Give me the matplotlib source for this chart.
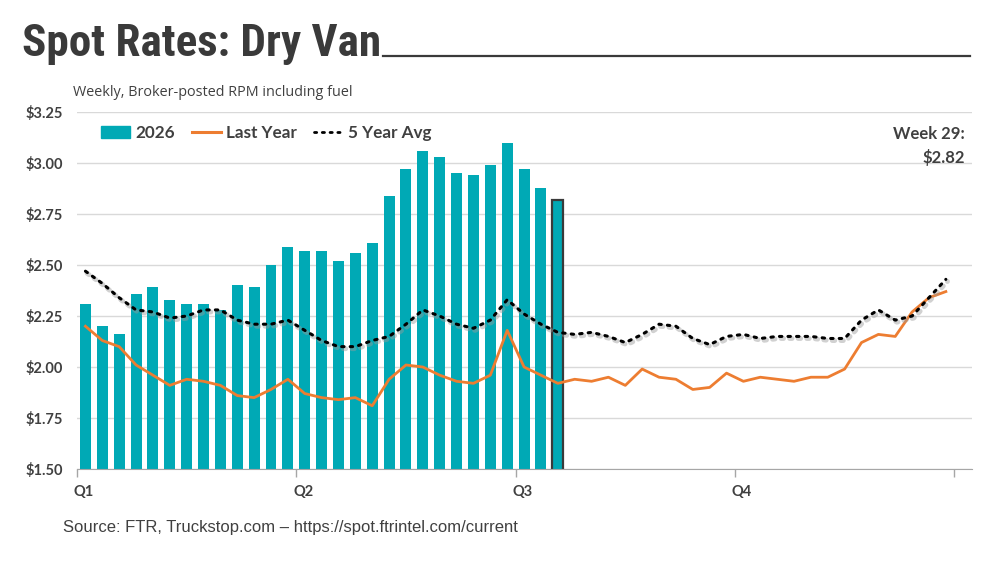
import numpy as np
import matplotlib
matplotlib.use('Agg')
import matplotlib.pyplot as plt
import matplotlib.patheffects as pe
from matplotlib.lines import Line2D
from matplotlib.patches import Patch

# weekly broker-posted RPM incl. fuel
weeks = np.arange(1, 53)
rate_2026 = [2.31, 2.20, 2.16, 2.36, 2.39, 2.33, 2.31, 2.31, 2.28, 2.40,
             2.39, 2.50, 2.59, 2.57, 2.57, 2.52, 2.56, 2.61, 2.84, 2.97,
             3.06, 3.03, 2.95, 2.94, 2.99, 3.10, 2.97, 2.88, 2.82]
last_year = [2.20, 2.13, 2.10, 2.01, 1.96, 1.91, 1.94, 1.93, 1.91, 1.86,
             1.85, 1.89, 1.94, 1.87, 1.85, 1.84, 1.85, 1.81, 1.94, 2.01,
             2.00, 1.96, 1.93, 1.92, 1.96, 2.18, 2.00, 1.96, 1.92, 1.94,
             1.93, 1.95, 1.91, 1.99, 1.95, 1.94, 1.89, 1.90, 1.97, 1.93,
             1.95, 1.94, 1.93, 1.95, 1.95, 1.99, 2.12, 2.16, 2.15, 2.27,
             2.34, 2.37]
five_yr_avg = [2.47, 2.41, 2.34, 2.28, 2.27, 2.24, 2.25, 2.28, 2.28, 2.23,
               2.21, 2.21, 2.23, 2.18, 2.13, 2.10, 2.10, 2.13, 2.15, 2.21,
               2.28, 2.25, 2.21, 2.19, 2.23, 2.33, 2.26, 2.21, 2.17, 2.16,
               2.17, 2.15, 2.12, 2.16, 2.21, 2.20, 2.14, 2.11, 2.15, 2.16,
               2.14, 2.15, 2.15, 2.15, 2.14, 2.14, 2.23, 2.28, 2.23, 2.25,
               2.34, 2.43]
quarters = ['Q1', 'Q2', 'Q3', 'Q4']
y_ticks = [1.50, 1.75, 2.00, 2.25, 2.50, 2.75, 3.00, 3.25]

teal = '#00A9B5'
orange = '#ED7D31'
txt = '#404040'
bold_font = ['Lato', 'DejaVu Sans']

fig = plt.figure(figsize=(10, 5.62), dpi=100)
ax = fig.add_axes([0.077, 0.1655, 0.895, 0.635])

n = len(rate_2026)
bars = ax.bar(weeks[:n], rate_2026, width=0.65, color=teal, zorder=2)
bars[-1].set_edgecolor('#3a3a3a')
bars[-1].set_linewidth(1.6)

ax.plot(weeks, last_year, color=orange, lw=2.0, zorder=3, solid_joinstyle='round')
ax.plot(weeks, five_yr_avg, color='black', lw=2.2, linestyle=(0, (0.8, 2.0)),
        dash_capstyle='round', zorder=4,
        path_effects=[pe.SimpleLineShadow(offset=(1.2, -1.5), shadow_color='#9a9a9a', alpha=0.45, linewidth=3.5),
                      pe.Normal()])

ax.set_xlim(0.5, 53.55)
ax.set_ylim(1.5, 3.25)
ax.set_yticks(y_ticks)
ax.set_yticklabels(['${:.2f}'.format(v) for v in y_ticks], fontfamily=bold_font,
                   fontweight='bold', fontsize=10.5, color=txt)
ax.yaxis.grid(True, color='#D9D9D9', lw=1.0, zorder=0)
ax.set_axisbelow(True)
ax.tick_params(axis='y', length=0, pad=10)

ax.set_xticks([0.5, 13.5, 26.5, 39.5, 52.5])
ax.set_xticklabels([])
ax.tick_params(axis='x', direction='out', length=6, color='#A6A6A6', width=1)
for i, q in enumerate(quarters):
    ax.text(0.5 + 13 * i + 0.4, 1.5 - 0.115, q, ha='center', va='center',
            fontfamily=bold_font, fontweight='bold', fontsize=10.5, color=txt)

for s in ['top', 'right', 'left']:
    ax.spines[s].set_visible(False)
ax.spines['bottom'].set_color('#A6A6A6')
ax.spines['bottom'].set_bounds(0.5, 53.55)

handles = [Patch(color=teal),
           Line2D([], [], color=orange, lw=2.2),
           Line2D([], [], color='black', lw=2.0, linestyle=(0, (0.8, 2.0)), dash_capstyle='round')]
leg = ax.legend(handles, ['2026', 'Last Year', '5 Year Avg'], loc='upper left',
                bbox_to_anchor=(0.01, 1.008), ncol=3, frameon=False, handlelength=1.7,
                handletextpad=0.3, columnspacing=1.0,
                prop={'family': bold_font, 'weight': 'bold', 'size': 12.3})
for t in leg.get_texts():
    t.set_color(txt)

fig.text(0.965, 0.74, 'Week 29:\n$2.82', ha='right', va='center', fontfamily=bold_font,
         fontweight='bold', fontsize=12, color=txt, linespacing=1.5)

# title with rule
fig.text(0.022, 0.90, 'Spot Rates: Dry Van', ha='left', va='baseline',
         fontfamily=['Roboto Condensed', 'Liberation Sans'], fontweight='bold',
         fontsize=32.5, color='#3a3a3a')
fig.add_artist(Line2D([0.383, 0.970], [0.900, 0.900], color='#3a3a3a', lw=1.6))

fig.text(0.073, 0.836, 'Weekly, Broker-posted RPM including fuel', ha='left', va='center',
         fontfamily=['Open Sans', 'DejaVu Sans'], fontsize=10.4, color=txt)

fig.text(0.063, 0.062, 'Source: FTR, Truckstop.com \u2013 https://spot.ftrintel.com/current',
         ha='left', va='center', fontfamily=['Liberation Sans', 'DejaVu Sans'],
         fontsize=12, color=txt)

fig.savefig('out.png', dpi=100)
